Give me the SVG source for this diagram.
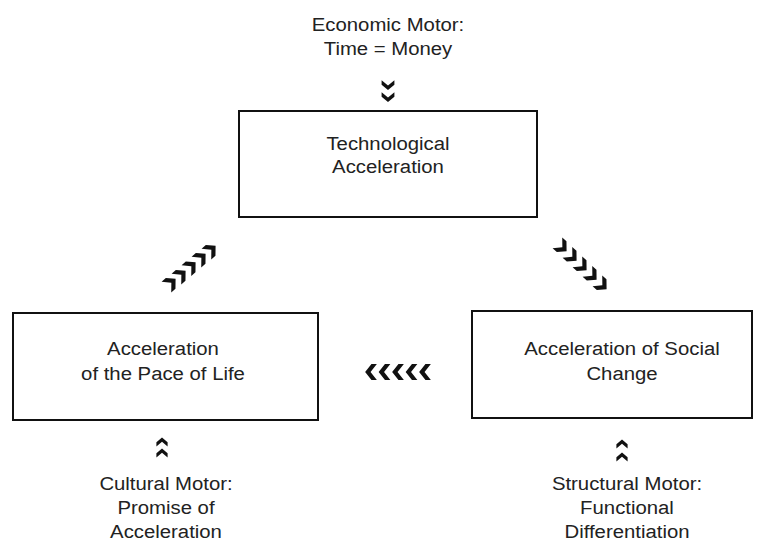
<svg xmlns="http://www.w3.org/2000/svg" xmlns:xlink="http://www.w3.org/1999/xlink" width="765" height="545" viewBox="0 0 765 545">
<style>
text{font-family:"Liberation Sans",Arial,sans-serif;font-size:18px;fill:#222;text-anchor:middle}
.box{fill:#fff;stroke:#111;stroke-width:2}
.chev{fill:#111}
</style>
<defs>
<path id="chev" class="chev" d="M-6.5,-8 L-0.5,-8 L6.5,0 L-0.5,8 L-6.5,8 L0.5,0 Z"/>
</defs>
<rect width="765" height="545" fill="#fff"/>
<g id="economic-motor">
<text transform="translate(388,31) scale(1.13,1)">Economic Motor:</text>
<text transform="translate(388,55) scale(1.13,1)">Time = Money</text>
</g>
<g id="technological">
<rect class="box" x="239" y="111" width="298" height="106"/>
<text transform="translate(388,150) scale(1.13,1)">Technological</text>
<text transform="translate(388,173) scale(1.13,1)">Acceleration</text>
</g>
<g id="pace-of-life">
<rect class="box" x="13" y="313" width="305" height="107"/>
<text transform="translate(163,355) scale(1.13,1)">Acceleration</text>
<text transform="translate(163,380) scale(1.13,1)">of the Pace of Life</text>
</g>
<g id="social-change">
<rect class="box" x="472" y="311" width="280" height="107"/>
<text transform="translate(622,355) scale(1.13,1)">Acceleration of Social</text>
<text transform="translate(622,380) scale(1.13,1)">Change</text>
</g>
<g id="cultural-motor">
<text transform="translate(166,490) scale(1.13,1)">Cultural Motor:</text>
<text transform="translate(166,514) scale(1.13,1)">Promise of</text>
<text transform="translate(166,538) scale(1.13,1)">Acceleration</text>
</g>
<g id="structural-motor">
<text transform="translate(627,490) scale(1.13,1)">Structural Motor:</text>
<text transform="translate(627,514) scale(1.13,1)">Functional</text>
<text transform="translate(627,538) scale(1.13,1)">Differentiation</text>
</g>
<g id="connectors">
<use xlink:href="#chev" transform="translate(388,85) rotate(90) scale(0.75,0.8)"/>
<use xlink:href="#chev" transform="translate(388,97) rotate(90) scale(0.75,0.8)"/>
<use xlink:href="#chev" transform="translate(171,283) rotate(-42) scale(0.95,0.9)"/>
<use xlink:href="#chev" transform="translate(181,275) rotate(-42) scale(0.95,0.9)"/>
<use xlink:href="#chev" transform="translate(191,266.5) rotate(-42) scale(0.95,0.9)"/>
<use xlink:href="#chev" transform="translate(201,258) rotate(-42) scale(0.95,0.9)"/>
<use xlink:href="#chev" transform="translate(211,250) rotate(-42) scale(0.95,0.9)"/>
<use xlink:href="#chev" transform="translate(562,247) rotate(42) scale(0.95,0.9)"/>
<use xlink:href="#chev" transform="translate(572,256.5) rotate(42) scale(0.95,0.9)"/>
<use xlink:href="#chev" transform="translate(582,266) rotate(42) scale(0.95,0.9)"/>
<use xlink:href="#chev" transform="translate(592,275.5) rotate(42) scale(0.95,0.9)"/>
<use xlink:href="#chev" transform="translate(602,285) rotate(42) scale(0.95,0.9)"/>
<use xlink:href="#chev" transform="translate(371,372) rotate(180) scale(0.9,1)"/>
<use xlink:href="#chev" transform="translate(384.5,372) rotate(180) scale(0.9,1)"/>
<use xlink:href="#chev" transform="translate(398,372) rotate(180) scale(0.9,1)"/>
<use xlink:href="#chev" transform="translate(411.5,372) rotate(180) scale(0.9,1)"/>
<use xlink:href="#chev" transform="translate(425,372) rotate(180) scale(0.9,1)"/>
<use xlink:href="#chev" transform="translate(162,442) rotate(-90) scale(0.7,0.7)"/>
<use xlink:href="#chev" transform="translate(162,453) rotate(-90) scale(0.7,0.7)"/>
<use xlink:href="#chev" transform="translate(622,444) rotate(-90) scale(0.7,0.7)"/>
<use xlink:href="#chev" transform="translate(622,457) rotate(-90) scale(0.7,0.7)"/>
</g>
</svg>
